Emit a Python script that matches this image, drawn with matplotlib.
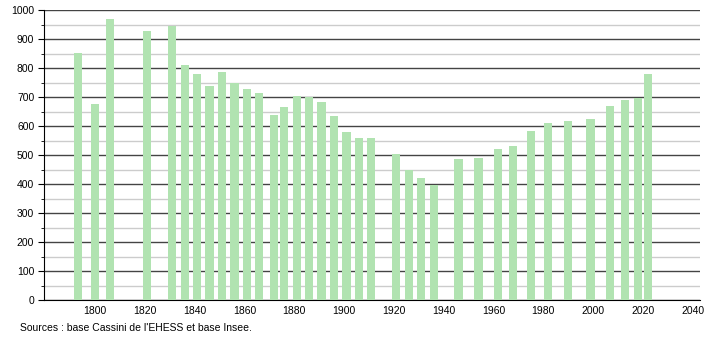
import numpy as np
import matplotlib.pyplot as plt
from matplotlib.ticker import MultipleLocator

# population data (years / inhabitants)
years = [1793, 1800, 1806, 1821, 1831, 1836, 1841, 1846, 1851, 1856,
         1861, 1866, 1872, 1876, 1881, 1886, 1891, 1896, 1901, 1906,
         1911, 1921, 1926, 1931, 1936, 1946, 1954, 1962, 1968, 1975,
         1982, 1990, 1999, 2007, 2013, 2018, 2022]
population = [851, 676, 968, 926, 945, 809, 779, 738, 786, 747,
              728, 713, 638, 666, 703, 700, 683, 634, 579, 559,
              559, 503, 448, 421, 397, 485, 490, 521, 531, 583,
              610, 617, 624, 669, 690, 697, 779]
xticks = list(range(1800, 2041, 20))
source = "Sources : base Cassini de l'EHESS et base Insee."

plt.rcParams['font.family'] = ['Liberation Sans', 'DejaVu Sans']

fig = plt.figure(figsize=(7.1, 3.4), dpi=100)
ax = fig.add_axes([44/710, 40/340, 656/710, 290/340])

ax.set_axisbelow(True)
ax.yaxis.set_major_locator(MultipleLocator(100))
ax.yaxis.set_minor_locator(MultipleLocator(50))
ax.grid(which='major', axis='y', color='#444444', linewidth=1)
ax.grid(which='minor', axis='y', color='#cccccc', linewidth=1)

ax.bar(years, population, width=3.3, color='#b1e3b1', zorder=3)

ax.set_xlim(1779.5, 2043)
ax.set_ylim(0, 1000)
ax.set_xticks(xticks)
ax.tick_params(axis='x', length=0, labelsize=7.5, pad=4)
ax.tick_params(axis='y', which='major', length=4, labelsize=7.5, pad=3)
ax.tick_params(axis='y', which='minor', length=2)
for s in ['top', 'right']:
    ax.spines[s].set_visible(False)
ax.spines['left'].set_color('black')
ax.spines['bottom'].set_color('black')

fig.text(20/710, 1 - 328/340, source, fontsize=7.5, va='center')

fig.savefig('out.png', dpi=100)
